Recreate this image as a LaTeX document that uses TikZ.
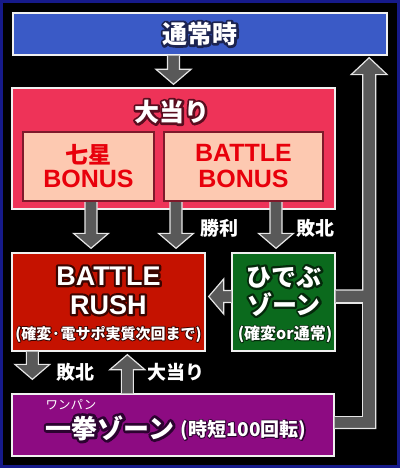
\documentclass[tikz,border=0pt]{standalone}
\usepackage{fontspec}
\setmainfont{Noto Sans CJK JP}
\newfontfamily\latin{Liberation Sans}
\usetikzlibrary{calc}

\definecolor{frameblue}{HTML}{161A8A}
\definecolor{tsujoblue}{HTML}{3A5AC6}
\definecolor{tsujoline}{HTML}{1B2350}
\definecolor{ooatarired}{HTML}{EE3358}
\definecolor{ooatariline}{HTML}{5A0D1F}
\definecolor{peach}{HTML}{FDC9B1}
\definecolor{bonusedge}{HTML}{7E1A2B}
\definecolor{bonusred}{HTML}{E8000B}
\definecolor{brushred}{HTML}{C51200}
\definecolor{brushline}{HTML}{3A0400}
\definecolor{hidebugreen}{HTML}{0B6A1D}
\definecolor{hidebuline}{HTML}{05280B}
\definecolor{ikkenpurple}{HTML}{8D0B82}
\definecolor{ikkenline}{HTML}{2C0330}
\definecolor{arrowgray}{HTML}{595959}
\definecolor{arrowedge}{HTML}{E6E6E6}
\definecolor{boxedge}{HTML}{F0F0F0}

% outlined text: a stroked copy (stroke width #1) under the filled text
\newcommand{\txtoutline}[3][3.2]{\leavevmode\rlap{\special{pdf:code q 1 j 1 Tr #1 w}\textcolor{#2}{#3}\special{pdf:code Q}}#3}
\newcommand{\latbig}{\latin\bfseries\fontsize{25}{25}\selectfont}

% block arrow from #1 to #2 (tip at #2)
\newcommand{\blockarrow}[2]{%
  \coordinate (ba-c) at ($#2!15pt!#1$);
  \fill[arrowfill] ($#1!6pt!90:#2$) -- ($(ba-c)!6pt!90:#2$)
    -- ($(ba-c)!17.5pt!90:#2$) -- #2 -- ($(ba-c)!17.5pt!-90:#2$)
    -- ($(ba-c)!6pt!-90:#2$) -- ($#1!6pt!-90:#2$) -- cycle;
  \draw[arrowline] ($#1!6pt!90:#2$) -- ($(ba-c)!6pt!90:#2$)
    -- ($(ba-c)!17.5pt!90:#2$) -- #2 -- ($(ba-c)!17.5pt!-90:#2$)
    -- ($(ba-c)!6pt!-90:#2$) -- ($#1!6pt!-90:#2$);}

\begin{document}
\begin{tikzpicture}[x=1pt, y=-1pt,
    statebox/.style={draw=boxedge, line width=1.3pt, inner sep=0pt},
    bonusbox/.style={draw=bonusedge, fill=peach, line width=2pt, inner sep=0pt,
      text=bonusred, align=center, font=\bfseries\fontsize{23}{24}\selectfont},
    bigtext/.style={text=white, align=center, inner sep=0pt, font=\bfseries\fontsize{25}{28}\selectfont},
    smalltext/.style={text=white, inner sep=0pt, font=\bfseries\fontsize{15}{16}\selectfont},
    lbl/.style={text=white, inner sep=0pt, font=\bfseries\fontsize{19}{20}\selectfont},
    arrowfill/.style={fill=arrowgray},
    arrowline/.style={draw=arrowedge, line width=1.2pt, line join=miter}]

  \useasboundingbox (0,0) rectangle (400,468);
  \draw[draw=frameblue, fill=black, line width=3pt] (1.5,1.5) rectangle (398.5,466.5);

  % boxes
  \node[statebox, fill=tsujoblue, minimum width=374, minimum height=42,
    text=white, font=\bfseries\fontsize{25}{25}\selectfont] (tsujo) at (200,34)
    {\txtoutline[4.5]{tsujoline}{通常時}};
  \node[statebox, fill=ooatarired, minimum width=323, minimum height=121] (ooatari) at (173.5,148.5) {};
  \node[bonusbox, minimum width=131, minimum height=69] (nanasei) at (88.5,166.5)
    {七星\\{\latbig BONUS}};
  \node[bonusbox, minimum width=159, minimum height=69] (bbonus) at (243.5,166.5)
    {{\latbig BATTLE}\\[2pt]{\latbig BONUS}};
  \node[statebox, fill=brushred, minimum width=193, minimum height=98] (brush) at (108.5,302) {};
  \node[statebox, fill=hidebugreen, minimum width=103, minimum height=98] (hidebu) at (283.5,302) {};
  \node[statebox, fill=ikkenpurple, minimum width=322, minimum height=62] (ikken) at (173,425) {};

  % texts
  \node[bigtext] (ooatari-t) at (172,112) {\txtoutline[4.5]{ooatariline}{大当り}};
  \node[bigtext, font=\latin\bfseries\fontsize{27}{29}\selectfont] (brush-t) at (108.5,290.5)
    {\txtoutline[4.5]{brushline}{BATTLE}\\\txtoutline[4.5]{brushline}{RUSH}};
  \node[smalltext] (brush-s) at (108.5,334) {\txtoutline[1.8]{brushline}{(確変·電サポ実質次回まで)}};
  \node[bigtext] (hidebu-t) at (284,291)
    {\txtoutline[4.5]{hidebuline}{ひでぶ}\\\txtoutline[4.5]{hidebuline}{ゾーン}};
  \node[smalltext, font=\bfseries\fontsize{16}{17}\selectfont] (hidebu-s) at (285,334)
    {\txtoutline[1.8]{hidebuline}{(確変or通常)}};
  \node[smalltext, font=\fontsize{12.5}{13}\selectfont] (ikken-r) at (71,405) {ワンパン};
  \node[bigtext, font=\bfseries\fontsize{26}{26}\selectfont] (ikken-t) at (110,428)
    {\txtoutline[5.5]{ikkenline}{一拳ゾーン}};
  \node[smalltext, font=\bfseries\fontsize{19}{20}\selectfont] (ikken-s) at (243.5,430)
    {\txtoutline[1.8]{ikkenline}{(時短100回転)}};

  % arrows
  \coordinate (a1s) at (tsujo.south -| ooatari.north);
  \coordinate (a1e) at ($(ooatari.north)+(0,-3)$);
  \coordinate (a2s) at ($(nanasei.south)+(2.5,0)$);
  \coordinate (a2e) at ($(a2s |- brush.north)+(0,-4)$);
  \coordinate (a3s) at ($(bbonus.south west)+(13,0)$);
  \coordinate (a3e) at ($(a3s |- brush.north)+(0,-4)$);
  \coordinate (a4s) at ($(bbonus.south east)+(-48,0)$);
  \coordinate (a4e) at ($(a4s |- hidebu.north)+(0,-4)$);
  \coordinate (a5s) at ($(hidebu.west)+(0,-5.5)$);
  \coordinate (a5e) at ($(brush.east)+(3,-5.5)$);
  \coordinate (a6s) at ($(brush.south west)+(21,0)$);
  \coordinate (a6e) at ($(a6s |- ikken.north)+(0,-14)$);
  \coordinate (a7s) at ($(ikken.north west)+(116,0)$);
  \coordinate (a7e) at ($(a7s |- brush.south)+(0,3)$);

  \blockarrow{(a1s)}{(a1e)}
  \blockarrow{(a2s)}{(a2e)}
  \blockarrow{(a3s)}{(a3e)}
  \blockarrow{(a4s)}{(a4e)}
  \blockarrow{(a5s)}{(a5e)}
  \blockarrow{(a6s)}{(a6e)}
  \blockarrow{(a7s)}{(a7e)}

  % return path to the top box
  \coordinate (loop) at ($(tsujo.south east)+(-18.5,0)$);
  \coordinate (l-in) at ($(loop)+(-6.5,0)$);
  \coordinate (l-out) at ($(loop)+(6.5,0)$);
  \coordinate (t-in) at ($(loop)+(0,2)$);
  \coordinate (h-out) at ($(hidebu.east)+(0,-5.5)$);
  \coordinate (i-out) at ($(ikken.east)+(0,-2.5)$);
  \fill[arrowfill] ($(h-out)+(0,-6.5)$) -| ($(l-in |- t-in)+(0,17)$) -- ($(t-in)+(-18,17)$)
    -- (t-in) -- ($(t-in)+(18,17)$) -- ($(l-out |- t-in)+(0,17)$) |- ($(i-out)+(0,6)$)
    -- ($(i-out)+(0,-6)$) -| ($(l-in |- h-out)+(0,6.5)$) -- ($(h-out)+(0,6.5)$) -- cycle;
  \draw[arrowline] ($(h-out)+(0,-6.5)$) -| ($(l-in |- t-in)+(0,17)$) -- ($(t-in)+(-18,17)$)
    -- (t-in) -- ($(t-in)+(18,17)$) -- ($(l-out |- t-in)+(0,17)$) |- ($(i-out)+(0,6)$);
  \draw[arrowline] ($(i-out)+(0,-6)$) -| ($(l-in |- h-out)+(0,6.5)$) -- ($(h-out)+(0,6.5)$);

  % labels
  \node[lbl] (win) at (219,228) {\txtoutline[2.2]{black}{勝利}};
  \node[lbl] (lose) at (315,228) {\txtoutline[2.2]{black}{敗北}};
  \node[lbl] (lose2) at (75,372) {\txtoutline[2.2]{black}{敗北}};
  \node[lbl] (hit) at (176,372) {\txtoutline[2.2]{black}{大当り}};
\end{tikzpicture}
\end{document}
